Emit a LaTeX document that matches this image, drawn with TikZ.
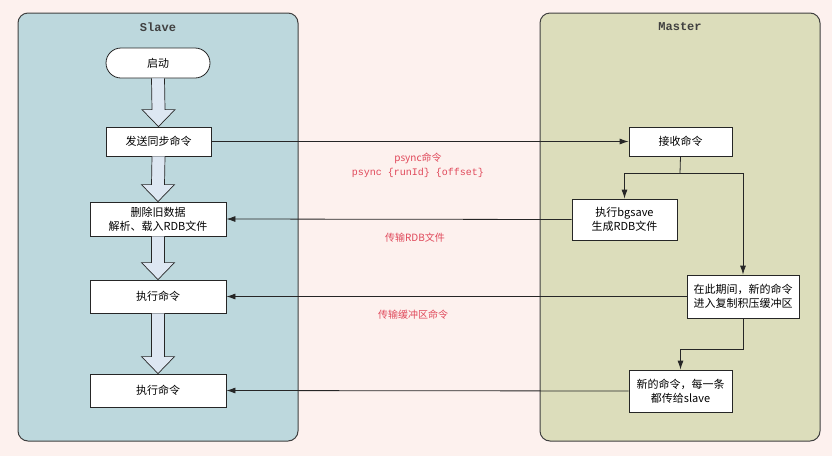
\documentclass[tikz,border=0pt]{standalone}
\usepackage{fontspec}
\setmainfont{Noto Sans CJK SC}
\newfontfamily\titlefont{Liberation Mono}
\usetikzlibrary{arrows.meta,calc}
\definecolor{pagebg}{HTML}{FDF1EE}
\definecolor{slavebg}{HTML}{BDD8DD}
\definecolor{masterbg}{HTML}{DCDDBB}
\definecolor{fatfill}{HTML}{DDE7F2}
\definecolor{msgred}{HTML}{E0485A}

\begin{document}
\begin{tikzpicture}[x=1pt,y=-1pt,
	box/.style={draw=black!85,line width=0.8pt,fill=white,align=center,inner sep=0pt,
		font=\fontsize{11}{14}\selectfont},
	panel/.style={draw=black!75,line width=1pt,rounded corners=10pt},
	paneltitle/.style={font=\titlefont\bfseries\fontsize{12}{14}\selectfont,text=black!75},
	msg/.style={-{Latex[length=9pt,width=6pt]},line width=0.8pt,black!85},
	fat/.style={draw=black!85,line width=0.7pt,fill=fatfill},
	lbl/.style={text=msgred,align=center,font=\fontsize{10}{14}\selectfont}]
		\useasboundingbox (0,0) rectangle (832,456);
		\fill[pagebg] (0,0) rectangle (832,456);
		\draw[panel,fill=slavebg] (18,13) rectangle (298,441);
		\draw[panel,fill=masterbg] (540,13) rectangle (820,441);
		\node[paneltitle] (slave) at (158,27) {Slave};
		\node[paneltitle] (master) at (680,27) {Master};
		% slave side
		\node[box,rounded corners=15pt,minimum width=104pt,minimum height=30pt] (start) at (158,63) {启动};
		\node[box,minimum width=105pt,minimum height=29pt] (send) at (158.5,141.5) {发送同步命令};
		\node[box,minimum width=136pt,minimum height=34pt] (del) at (158,219) {删除旧数据\\解析、载入RDB文件};
		\node[box,minimum width=136pt,minimum height=33pt] (exec) at (158,296.5) {执行命令};
		\node[box,minimum width=136pt,minimum height=33pt] (exec2) at (158,390.5) {执行命令};
		% master side
		\node[box,minimum width=103pt,minimum height=29pt] (recv) at (680.5,141.5) {接收命令};
		\node[box,minimum width=105pt,minimum height=41pt] (bgsave) at (624.5,219.5) {执行bgsave\\生成RDB文件};
		\node[box,minimum width=112pt,minimum height=43pt] (during) at (743,296.5) {在此期间，新的命令\\进入复制积压缓冲区};
		\node[box,minimum width=103pt,minimum height=42pt] (newcmd) at (680.5,391) {新的命令，每一条\\都传给slave};
		\foreach \a/\b in {start/send,send/del,del/exec,exec/exec2}
			\draw[fat] ($(\a.south)+(-6.5,0)$) -- ($(\b.north)+(-6.5,-17)$) -- ($(\b.north)+(-16.5,-17)$)
				-- (\b.north) -- ($(\b.north)+(16.5,-17)$) -- ($(\b.north)+(6.5,-17)$) -- ($(\a.south)+(6.5,0)$);
		\coordinate (split) at (680,173);
		\draw[line width=0.8pt,black!85] (recv.south) -- (split);
		\draw[msg] (split) -| (bgsave.north);
		\draw[msg] (split) -| (during.north);
		\draw[msg] (during.south) -- ++(0,31) -| (newcmd.north);
		% messages
		\draw[msg] (send.east) -- (recv.west);
		\draw[msg] (bgsave.west) -- (del.east);
		\draw[msg] (during.west) -- (exec.east);
		\draw[msg] (newcmd.west) -- (exec2.east);
		\node[lbl] (psync) at (418,165) {psync命令\\{\titlefont psync \{runId\} \{offset\}}};
		\node[lbl] (rdb) at (415,238) {传输RDB文件};
		\node[lbl] (buf) at (413,315) {传输缓冲区命令};
	\end{tikzpicture}
\end{document}
